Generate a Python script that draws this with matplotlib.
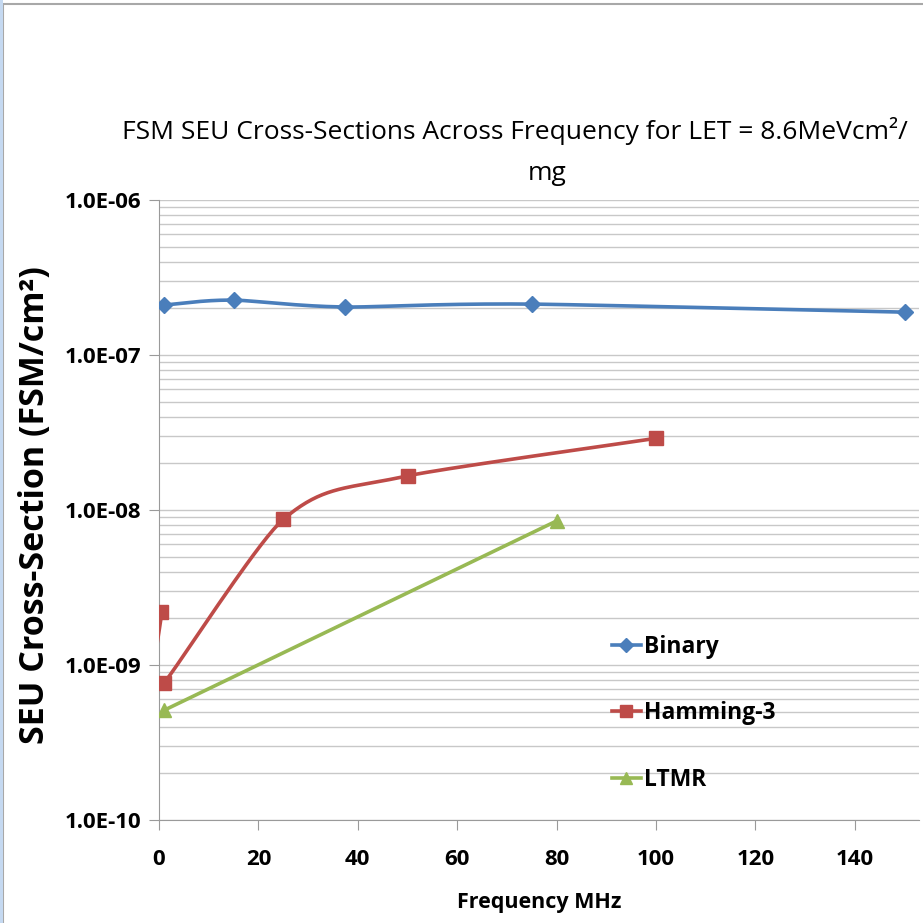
import numpy as np
import matplotlib
matplotlib.use("Agg")
from matplotlib import pyplot as plt
from matplotlib.patches import Rectangle

plt.rcParams['font.family'] = ['Open Sans', 'DejaVu Sans']

# data
binary_x = [1, 15, 37.5, 75, 150]
binary_y = [2.1e-7, 2.26e-7, 2.04e-7, 2.13e-7, 1.89e-7]
hamming_x = [0.5, 1, 25, 50, 100]
hamming_y = [2.2e-9, 7.7e-10, 8.7e-9, 1.66e-8, 2.9e-8]
ltmr_x = [1, 80]
ltmr_y = [5.1e-10, 8.5e-9]

xticks = [0, 20, 40, 60, 80, 100, 120, 140]
yticks = [1e-10, 1e-9, 1e-8, 1e-7, 1e-6]
ytick_labels = ["1.0E-10", "1.0E-09", "1.0E-08", "1.0E-07", "1.0E-06"]

XPX = 4.97    # px per MHz
YPX = 155.0   # px per decade


def smooth(xs, ys, n=40):
    # excel-like bezier smoothing in screen proportions
    px = np.array(xs, float) * XPX
    py = np.log10(np.array(ys, float)) * YPX
    if len(px) < 3:
        return xs, ys
    P = np.column_stack([px, py])
    P = np.vstack([P[0], P, P[-1]])
    out = []
    for i in range(1, len(P) - 2):
        p0, p1, p2, p3 = P[i - 1], P[i], P[i + 1], P[i + 2]
        d01 = np.hypot(*(p1 - p0))
        d12 = np.hypot(*(p2 - p1))
        d23 = np.hypot(*(p3 - p2))
        s1 = min(1.0, d01 / d12) if d01 > 0 else 1.0
        s2 = min(1.0, d23 / d12) if d23 > 0 else 1.0
        c1 = p1 + (p2 - p0) / 6.0 * s1
        c2 = p2 - (p3 - p1) / 6.0 * s2
        t = np.linspace(0, 1, n)[:, None]
        seg = ((1 - t) ** 3) * p1 + 3 * ((1 - t) ** 2) * t * c1 + 3 * (1 - t) * t ** 2 * c2 + t ** 3 * p2
        out.append(seg)
    out = np.vstack(out)
    return out[:, 0] / XPX, 10 ** (out[:, 1] / YPX)


fig = plt.figure(figsize=(9.23, 9.23), dpi=100)
ax = fig.add_axes([159 / 923, 103 / 923, 153 * XPX / 923, 620 / 923])

series = [
    (binary_x, binary_y, "#4A7EBB", "D", 8, "Binary"),
    (hamming_x, hamming_y, "#BE4B48", "s", 10, "Hamming-3"),
    (ltmr_x, ltmr_y, "#98B954", "^", 10, "LTMR"),
]
handles = []
for xs, ys, col, mk, ms, name in series:
    sx, sy = smooth(xs, ys)
    ax.plot(sx, sy, color=col, lw=2.6, zorder=3)
    ax.plot(xs, ys, ls="none", marker=mk, ms=ms, color=col, zorder=4)
    h, = ax.plot([], [], color=col, lw=2.6, marker=mk, ms=ms - 1, label=name)
    handles.append(h)

ax.set_yscale("log")
ax.set_ylim(1e-10, 1e-6)
ax.set_xlim(0, 153)
ax.set_yticks(yticks)
ax.set_yticklabels(ytick_labels)
ax.set_xticks(xticks)
ax.yaxis.set_minor_locator(matplotlib.ticker.LogLocator(base=10, subs=np.arange(2, 10)))
ax.yaxis.set_minor_formatter(matplotlib.ticker.NullFormatter())
ax.grid(True, which="both", axis="y", color="#C8C8C8", lw=1.0)
ax.set_axisbelow(True)
for s in ["top", "right"]:
    ax.spines[s].set_visible(False)
for s in ["left", "bottom"]:
    ax.spines[s].set_color("#9A9A9A")
ax.tick_params(axis="both", which="major", length=7, color="#9A9A9A", labelsize=16, pad=6)
ax.tick_params(axis="y", which="minor", length=0)
ax.tick_params(axis="x", pad=14)
for lab in ax.get_xticklabels() + ax.get_yticklabels():
    lab.set_fontweight("bold")

ax.set_xlabel("Frequency MHz", fontsize=15.5, fontweight="bold", labelpad=16)
fig.text(122 / 923, 1 - 131 / 923, "FSM SEU Cross-Sections Across Frequency for LET = 8.6MeVcm²/",
         ha="left", va="center", fontsize=19)
fig.text(547 / 923, 1 - 173 / 923, "mg", ha="center", va="center", fontsize=19)
fig.text(35 / 923, 1 - 505 / 923, "SEU Cross-Section (FSM/cm²)", rotation=90,
         ha="center", va="center", fontsize=24.5, fontweight="bold")

leg = ax.legend(handles=handles, loc="upper left",
                bbox_to_anchor=((612 - 159) / (153 * XPX), (820 - 635) / 620),
                frameon=False, fontsize=16.5, labelspacing=1.85, handlelength=1.25,
                handletextpad=0.15, borderpad=0, borderaxespad=0)
for t in leg.get_texts():
    t.set_fontweight("bold")

# outer frame of the pasted chart
fig.add_artist(Rectangle((3 / 923, -0.01), 1.0, 1 - 4 / 923 + 0.01, transform=fig.transFigure,
                         fill=False, ec="#A8A8A8", lw=1.5))
fig.add_artist(Rectangle((0, 0), 3 / 923, 1, transform=fig.transFigure,
                         fc="#C5D9F1", ec="none"))

fig.savefig("out.png", dpi=100)
